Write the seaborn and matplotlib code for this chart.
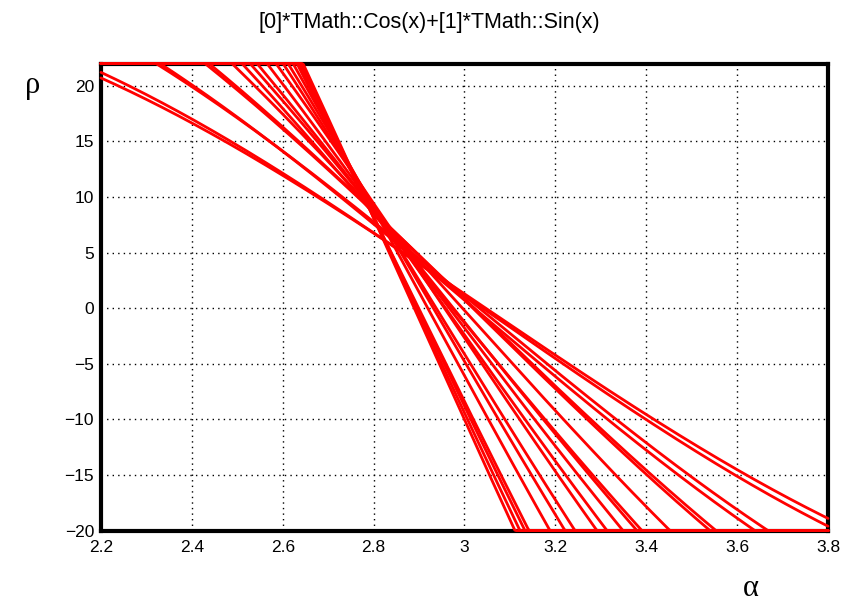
import numpy as np
import pandas as pd
import matplotlib
matplotlib.use("Agg")
import matplotlib.pyplot as plt
import seaborn as sns
from matplotlib.ticker import MultipleLocator, FuncFormatter

title = "[0]*TMath::Cos(x)+[1]*TMath::Sin(x)"
x_label = "α"
y_label = "ρ"

# parameters [0] and [1] of each drawn function
p0 = [2.62, 2.88, 3.67, 4.15, 4.73, 4.93, 6.61, 8.28, 8.41, 9.34,
      10.48, 11.21, 13.46, 14.60, 16.60, 19.98, 20.70, 21.67, 22.69]
p1 = [27.51, 28.32, 33.49, 34.26, 39.12, 39.80, 44.83, 48.60, 50.15, 52.77,
      56.50, 59.67, 65.13, 68.44, 73.41, 80.74, 82.79, 85.30, 87.98]

x_min, x_max = 2.2, 3.8
y_min, y_max = -20, 22

sns.set_style("white")
plt.rcParams["font.family"] = ["Liberation Sans", "DejaVu Sans"]
plt.rcParams["text.color"] = "black"
plt.rcParams["xtick.color"] = "black"
plt.rcParams["ytick.color"] = "black"

fig = plt.figure(figsize=(8.51, 6.03), dpi=100)
ax = fig.add_axes([101/851, 1-530.6/603, 727/851, (530.6-63.5)/603])

alpha = np.linspace(x_min, x_max, 500)
rows = []
for i, (a, b) in enumerate(zip(p0, p1)):
    rho = np.clip(a*np.cos(alpha) + b*np.sin(alpha), y_min, y_max)
    rows.append(pd.DataFrame({"alpha": alpha, "rho": rho, "curve": i}))
df = pd.concat(rows, ignore_index=True)
sns.lineplot(data=df, x="alpha", y="rho", hue="curve", palette=["#ff0000"]*len(p0),
             legend=False, estimator=None, sort=False, linewidth=2.0, ax=ax)
for ln in ax.lines:
    ln.set_clip_on(False)
    ln.set_zorder(3)

ax.set_xlim(x_min, x_max)
ax.set_ylim(y_min, y_max)
ax.xaxis.set_major_locator(MultipleLocator(0.2))
ax.xaxis.set_minor_locator(MultipleLocator(0.05))
ax.yaxis.set_major_locator(MultipleLocator(5))
ax.yaxis.set_minor_locator(MultipleLocator(1))
ax.xaxis.set_major_formatter(FuncFormatter(lambda v, p: f"{v:g}"))
ax.grid(True, which="major", color="black", linestyle=(0, (1, 3)), linewidth=1.0)
ax.tick_params(which="both", direction="in", top=False, right=False,
               labelsize=12.5, color="black", labelcolor="black")
ax.tick_params(which="major", length=9.5, width=1.0)
ax.tick_params(axis="x", which="major", pad=7)
ax.tick_params(axis="y", which="major", pad=5)
ax.tick_params(which="minor", length=5, width=1.0)
for sp in ax.spines.values():
    sp.set_linewidth(3)
    sp.set_color("black")
    sp.set_visible(True)
ax.set_xlabel("")
ax.set_ylabel("")

fig.text(0.505, 0.963, title, ha="center", va="center", fontsize=15.5, color="black")
fig.text(751/851, 1-588/603, x_label, ha="center", va="center", fontsize=22,
         family="Liberation Serif", color="black")
fig.text(33/851, 1-86/603, y_label, ha="center", va="center", fontsize=22,
         family="Liberation Serif", color="black")

fig.savefig("out.png", dpi=100)
